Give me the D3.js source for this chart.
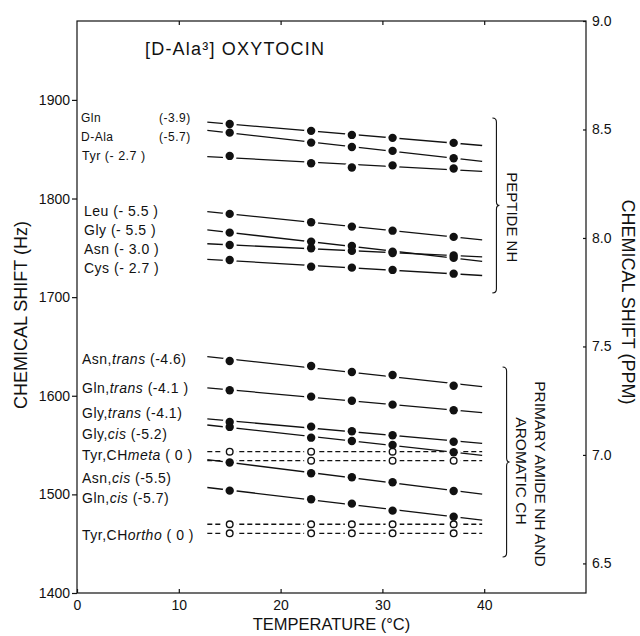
<!doctype html>
<html>
  <head>
    <meta charset="utf-8" />
    <title>[D-Ala3] oxytocin temperature dependence</title>
    <style>
      body { margin: 0; background: #fff; }
      svg text { font-family: "Liberation Sans", Arial, sans-serif; fill: #111; }
      .axis path { display: none; }
      .axis line { stroke: #111; stroke-width: 1.2px; }
      .axis text { font-size: 14px; }
      .fit { fill: none; stroke: #111; stroke-width: 1.3px; }
      .fit.dashed { stroke-dasharray: 5,3; }
    </style>
  </head>
  <body>
    <div id="chart"></div>
    <script src="https://d3js.org/d3.v7.min.js"></script>
    <script>
      // temperatures (deg C) where spectra were taken
      var temps = [15, 23, 27, 31, 37];

      // chemical shifts (Hz, 220 MHz)
      // peptide NH
      var glnNH  = [1875.6, 1868.6, 1864.5, 1861.5, 1856.4];
      var dAlaNH = [1866.8, 1856.7, 1852.3, 1848.3, 1840.9];
      var tyrNH  = [1843.2, 1835.8, 1831.5, 1833.6, 1830.5];
      var leuNH  = [1784.4, 1776.0, 1771.5, 1767.4, 1761.1];
      var glyNH  = [1765.4, 1756.3, 1751.9, 1746.1, 1739.8];
      var asnNH  = [1752.9, 1749.6, 1746.9, 1744.8, 1742.3];
      var cysNH  = [1737.7, 1730.9, 1729.9, 1727.6, 1723.8];
      // primary amide NH and aromatic CH
      var asnTrans  = [1635.3, 1630.2, 1624.1, 1621.1, 1610.2];
      var glnTrans  = [1605.6, 1599.1, 1595.0, 1591.0, 1585.3];
      var glyTrans  = [1573.4, 1568.7, 1564.0, 1559.9, 1553.4];
      var glyCis    = [1568.4, 1557.5, 1554.2, 1550.1, 1542.7];
      var tyrMetaA  = [1543.3, 1543.3, null, 1543.3, null];
      var tyrMetaB  = [null, 1534.2, null, 1534.2, 1534.2];
      var asnCis    = [1532.4, 1521.4, 1517.3, 1512.3, 1503.4];
      var glnCis    = [1503.8, 1495.0, 1490.6, 1483.5, 1477.4];
      var tyrOrthoA = [1469.7, 1469.7, 1469.7, 1469.7, 1469.7];
      var tyrOrthoB = [1460.5, 1460.5, 1460.5, 1460.5, 1460.5];

      var filledSeries = [glnNH, dAlaNH, tyrNH, leuNH, glyNH, asnNH, cysNH,
                          asnTrans, glnTrans, glyTrans, glyCis, asnCis, glnCis];
      var openSeries = [tyrMetaA, tyrMetaB, tyrOrthoA, tyrOrthoB];

      // temperature span of the fitted lines
      var fitRange = [12.8, 39.8];

      // labels (name, temperature coefficient in ppb/deg)
      var nhNames = ["Gln", "D-Ala", "Tyr", "Leu", "Gly", "Asn", "Cys"];
      var nhCoef = ["(-3.9)", "(-5.7)", "(- 2.7 )", "(- 5.5 )", "(- 5.5 )", "(- 3.0 )", "(- 2.7 )"];
      var amideNames = [["Asn,", "trans"], ["Gln,", "trans"], ["Gly,", "trans"], ["Gly,", "cis"],
                        ["Tyr,CH", "meta"], ["Asn,", "cis"], ["Gln,", "cis"], ["Tyr,CH", "ortho"]];
      var amideCoef = [" (-4.6)", " (-4.1 )", " (-4.1)", " (-5.2)", " ( 0 )", " (-5.5)", " (-5.7)", " ( 0 )"];

      var yTicks = [1400, 1500, 1600, 1700, 1800, 1900];
      var xTicks = [0, 10, 20, 30, 40];
      var ppmTicks = [6.5, 7.0, 7.5, 8.0, 8.5, 9.0];

      // brackets: [top Hz, bottom Hz]
      var peptideSpan = [1881.7, 1704.3];
      var amideSpan = [1629.2, 1436.5];

      var MHZ = 220;

      var width = 640, height = 636;
      var margin = {top: 21, right: 54, bottom: 43, left: 77};

      var x = d3.scaleLinear().domain([0, 50]).range([margin.left, width - margin.right]);
      var y = d3.scaleLinear().domain([1400, 1980]).range([height - margin.bottom, margin.top]);
      var ppm = d3.scaleLinear().domain([1400 / MHZ, 1980 / MHZ]).range(y.range());

      var svg = d3.select("#chart").append("svg")
                  .attr("width", width)
                  .attr("height", height);

      // frame
      svg.append("rect")
         .attr("x", x(0)).attr("y", y(1980))
         .attr("width", x(50) - x(0)).attr("height", y(1400) - y(1980))
         .attr("fill", "none").attr("stroke", "#111").attr("stroke-width", 1.2);

      svg.append("g").attr("class", "axis")
         .attr("transform", "translate(" + x(0) + ",0)")
         .call(d3.axisLeft(y).tickValues(yTicks).tickSize(5).tickPadding(2)
                 .tickFormat(d3.format("d")));

      svg.append("g").attr("class", "axis")
         .attr("transform", "translate(0," + y(1400) + ")")
         .call(d3.axisBottom(x).tickValues(xTicks).tickSize(-4).tickPadding(7));

      svg.append("g").attr("class", "axis")
         .attr("transform", "translate(0," + y(1980) + ")")
         .call(d3.axisTop(x).tickValues(xTicks.slice(1)).tickSize(-4).tickFormat(""));

      svg.append("g").attr("class", "axis")
         .attr("transform", "translate(" + x(50) + ",0)")
         .call(d3.axisRight(ppm).tickValues(ppmTicks).tickSize(-3).tickPadding(6)
                 .tickFormat(d3.format(".1f")));

      // axis titles
      svg.append("text")
         .attr("transform", "translate(27," + 315 + ") rotate(-90)")
         .attr("text-anchor", "middle").style("font-size", "18px")
         .text("CHEMICAL SHIFT (Hz)");
      svg.append("text")
         .attr("transform", "translate(622," + 302 + ") rotate(90)")
         .attr("text-anchor", "middle").style("font-size", "18px")
         .text("CHEMICAL SHIFT (PPM)");
      svg.append("text")
         .attr("x", x(25)).attr("y", 630)
         .attr("text-anchor", "middle").style("font-size", "16.5px")
         .text("TEMPERATURE (\u00b0C)");
      svg.append("text")
         .attr("x", 145).attr("y", 55)
         .style("font-size", "18px").style("letter-spacing", "1.2px")
         .text("[D-Ala\u00b3] OXYTOCIN");

      // least squares line through the points that exist
      function fit(vals) {
        var pts = [];
        vals.forEach(function(v, i) { if (v !== null) pts.push([temps[i], v]); });
        var mx = d3.mean(pts, function(p) { return p[0]; });
        var my = d3.mean(pts, function(p) { return p[1]; });
        var sxy = d3.sum(pts, function(p) { return (p[0] - mx) * (p[1] - my); });
        var sxx = d3.sum(pts, function(p) { return (p[0] - mx) * (p[0] - mx); });
        var b = sxx ? sxy / sxx : 0;
        return fitRange.map(function(t) { return [t, my + b * (t - mx)]; });
      }

      var line = d3.line()
                   .x(function(d) { return x(d[0]); })
                   .y(function(d) { return y(d[1]); });

      var lines = svg.append("g");
      filledSeries.forEach(function(s) {
        lines.append("path").attr("class", "fit").attr("d", line(fit(s)));
      });
      openSeries.forEach(function(s) {
        lines.append("path").attr("class", "fit dashed").attr("d", line(fit(s)));
      });

      function points(s) {
        var out = [];
        s.forEach(function(v, i) { if (v !== null) out.push([temps[i], v]); });
        return out;
      }
      var allFilled = d3.merge(filledSeries.map(points));
      var allOpen = d3.merge(openSeries.map(points));

      // white halos break the lines around each point
      svg.append("g").selectAll("circle")
         .data(allFilled.concat(allOpen))
         .enter().append("circle")
         .attr("cx", function(d) { return x(d[0]); })
         .attr("cy", function(d) { return y(d[1]); })
         .attr("r", 7)
         .attr("fill", "#fff");

      svg.append("g").selectAll("circle")
         .data(allOpen)
         .enter().append("circle")
         .attr("cx", function(d) { return x(d[0]); })
         .attr("cy", function(d) { return y(d[1]); })
         .attr("r", 3.3)
         .attr("fill", "#fff").attr("stroke", "#111").attr("stroke-width", 1.4);

      svg.append("g").selectAll("circle")
         .data(allFilled)
         .enter().append("circle")
         .attr("cx", function(d) { return x(d[0]); })
         .attr("cy", function(d) { return y(d[1]); })
         .attr("r", 4.2)
         .attr("fill", "#111");

      // series labels
      var nhBase = [122, 141, 160, 216, 235, 254, 273];
      var lab = svg.append("g").style("letter-spacing", "0.5px");
      nhNames.forEach(function(n, i) {
        if (i < 2) {
          lab.append("text").attr("x", 81).attr("y", nhBase[i])
             .style("font-size", "12px").text(n);
          lab.append("text").attr("x", 159).attr("y", nhBase[i])
             .style("font-size", "12px").text(nhCoef[i]);
        } else {
          lab.append("text").attr("x", i < 3 ? 82 : 84).attr("y", nhBase[i])
             .style("font-size", i < 3 ? "12.5px" : "14px")
             .text(n + " " + nhCoef[i]);
        }
      });

      var amideBase = [364, 393, 418, 439, 460, 483, 503, 540];
      amideNames.forEach(function(n, i) {
        var t = lab.append("text").attr("x", 82).attr("y", amideBase[i])
                   .style("font-size", "14px");
        t.append("tspan").text(n[0]);
        t.append("tspan").style("font-style", "italic").text(n[1]);
        t.append("tspan").text(amideCoef[i]);
      });

      // curly brackets
      function brace(span, t) {
        var x0 = x(t), top = y(span[0]), bot = y(span[1]), mid = (top + bot) / 2;
        return "M" + (x0 - 4) + "," + top
             + "Q" + x0 + "," + top + " " + x0 + "," + (top + 4)
             + "L" + x0 + "," + (mid - 4)
             + "Q" + x0 + "," + mid + " " + (x0 + 3) + "," + mid
             + "Q" + x0 + "," + mid + " " + x0 + "," + (mid + 4)
             + "L" + x0 + "," + (bot - 4)
             + "Q" + x0 + "," + bot + " " + (x0 - 4) + "," + bot;
      }
      svg.append("path").attr("d", brace(peptideSpan, 41.2))
         .attr("fill", "none").attr("stroke", "#111").attr("stroke-width", 1.1);
      svg.append("path").attr("d", brace(amideSpan, 42.2))
         .attr("fill", "none").attr("stroke", "#111").attr("stroke-width", 1.1);

      svg.append("text")
         .attr("transform", "translate(507," + y((peptideSpan[0] + peptideSpan[1]) / 2 - 12) + ") rotate(90)")
         .attr("text-anchor", "middle").style("font-size", "15px")
         .text("PEPTIDE NH");
      svg.append("text")
         .attr("transform", "translate(535,474) rotate(90)")
         .attr("text-anchor", "middle").style("font-size", "15.5px")
         .text("PRIMARY AMIDE NH AND");
      svg.append("text")
         .attr("transform", "translate(516,471) rotate(90)")
         .attr("text-anchor", "middle").style("font-size", "15.5px")
         .text("AROMATIC CH");
    </script>
  </body>
</html>
